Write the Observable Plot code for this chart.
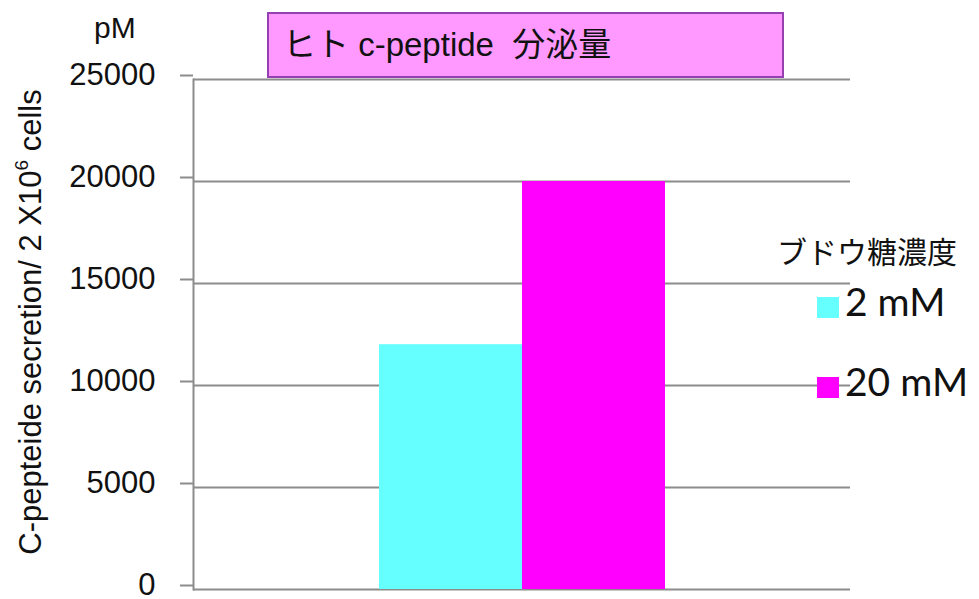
<!DOCTYPE html>
<html>
<head>
<meta charset="utf-8">
<script src="https://cdn.jsdelivr.net/npm/d3@7"></script>
<script src="https://cdn.jsdelivr.net/npm/@observablehq/plot@0.6"></script>
<style>
  html, body { margin: 0; padding: 0; background: #fff; }
  #wrap { position: relative; width: 979px; height: 599px; overflow: hidden; font-family: "Liberation Sans", Arial, sans-serif; }
  #chart { position: absolute; left: 0; top: 0; }
  #chart svg { overflow: visible; }
  .abs { position: absolute; white-space: pre; color: #111; }
  #title { left: 267px; top: 12px; width: 499px; height: 62px; background: #ff99ff; border: 2px solid #9440b0;
           font-size: 33px; line-height: 62px; padding-left: 14px; box-sizing: content-box;
           font-family: "Liberation Sans", "Noto Sans CJK JP", sans-serif; }
  #unit { left: 94px; top: 11px; font-size: 30px; }
  #ylab { left: 31px; top: 322px; font-size: 31px; transform: translate(-50%, -50%) rotate(-90deg); }
  #ylab sup { font-size: 19px; position: relative; top: -2px; }
  #legtitle { left: 777px; top: 228px; font-size: 30px; font-family: "Noto Sans CJK JP", sans-serif; }
  .sw { position: absolute; width: 22px; height: 21px; }
  .lt { position: absolute; font-family: Lato, "Open Sans", sans-serif; font-size: 39px; color: #111; white-space: nowrap; }
</style>
</head>
<body>
<div id="wrap">
  <div id="chart"></div>
</div>
<script>
const concentrations = ["2 mM", "20 mM"];
const secretion = [12000, 20000];
const barColors = ["#66ffff", "#ff00ff"];
const yTicks = [0, 5000, 10000, 15000, 20000, 25000];
const titleText = "ヒト c-peptide  分泌量";
const unitText = "pM";
const yLabelParts = ["C-pepteide secretion/ 2 X10", "6", " cells"];
const legendTitle = "ブドウ糖濃度";

const data = concentrations.map((c, i) => ({conc: c, value: secretion[i]}));

const plot = Plot.plot({
  width: 979,
  height: 599,
  marginLeft: 193,
  marginRight: 129,
  marginTop: 79,
  marginBottom: 10,
  style: {fontFamily: "Liberation Sans, Arial, sans-serif", color: "#111", background: "#fff", overflow: "visible"},
  x: {type: "band", domain: concentrations, paddingInner: 0, paddingOuter: 1.29, axis: null},
  y: {domain: [0, 25000], ticks: yTicks},
  color: {domain: concentrations, range: barColors},
  marks: [
    Plot.ruleY(yTicks, {stroke: "#8c8c8c", strokeWidth: 2}),
    Plot.barY(data, {x: "conc", y: "value", fill: "conc"}),
    Plot.frame({anchor: "left", stroke: "#8c8c8c", strokeWidth: 2}),
    Plot.axisY({ticks: yTicks, tickSize: 13, tickPadding: 25, tickFormat: d => String(d),
                fontSize: 31, stroke: "#8c8c8c", strokeWidth: 2, strokeOpacity: 1, label: null, dy: -4})
  ]
});
document.getElementById("chart").appendChild(plot);

const wrap = document.getElementById("wrap");
function add(id, html) {
  const d = document.createElement("div");
  d.className = "abs"; d.id = id; d.innerHTML = html; wrap.appendChild(d); return d;
}
add("title", titleText);
add("unit", unitText);
add("ylab", yLabelParts[0] + "<sup>" + yLabelParts[1] + "</sup>" + yLabelParts[2]);
add("legtitle", legendTitle);

const legendTops = [297, 377];
concentrations.forEach((c, i) => {
  const s = document.createElement("div");
  s.className = "sw";
  s.style.left = "817px"; s.style.top = legendTops[i] + "px"; s.style.background = barColors[i];
  wrap.appendChild(s);
  const t = document.createElement("div");
  t.className = "lt";
  t.style.left = "845px"; t.style.top = (legendTops[i] - 19) + "px";
  t.textContent = c;
  wrap.appendChild(t);
});
</script>
</body>
</html>
